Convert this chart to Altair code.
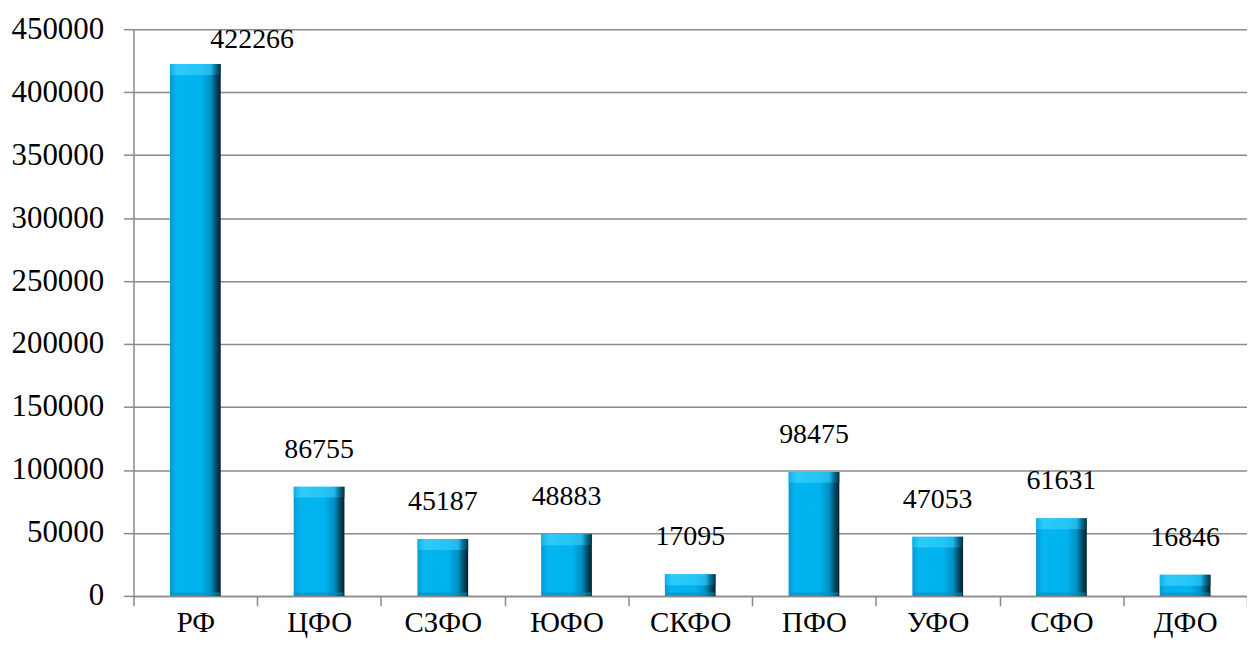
import altair as alt
import pandas as pd

regions = ["РФ", "ЦФО", "СЗФО", "ЮФО", "СКФО", "ПФО", "УФО", "СФО", "ДФО"]
values = [422266, 86755, 45187, 48883, 17095, 98475, 47053, 61631, 16846]

df = pd.DataFrame({"region": regions, "value": values})

FONT = "Liberation Serif"

body_grad = alt.Gradient(
    gradient="linear", x1=0, x2=1, y1=0, y2=0,
    stops=[
        alt.GradientStop(offset=0.0, color="#0898cf"),
        alt.GradientStop(offset=0.12, color="#04b4ee"),
        alt.GradientStop(offset=0.6, color="#00b4ef"),
        alt.GradientStop(offset=0.8, color="#0090c4"),
        alt.GradientStop(offset=0.9, color="#04506e"),
        alt.GradientStop(offset=1.0, color="#03202d"),
    ],
)
top_grad = alt.Gradient(
    gradient="linear", x1=0, x2=1, y1=0, y2=0,
    stops=[
        alt.GradientStop(offset=0.0, color="#18b8ee"),
        alt.GradientStop(offset=0.15, color="#40d4ff"),
        alt.GradientStop(offset=0.8, color="#30c8f8"),
        alt.GradientStop(offset=0.9, color="#0a7aa4"),
        alt.GradientStop(offset=1.0, color="#05384c"),
    ],
)

x_enc = alt.X(
    "region:N", sort=regions, title=None,
    scale=alt.Scale(paddingInner=0, paddingOuter=0),
    axis=alt.Axis(
        labelAngle=0, labelFont=FONT, labelFontSize=29, labelColor="black",
        labelPadding=3, tickBand="extent", tickSize=10, tickColor="#8a8a8a",
        tickWidth=1.5, domainColor="#8a8a8a", domainWidth=1.5, grid=False,
    ),
)
y_enc = alt.Y(
    "value:Q", title=None,
    scale=alt.Scale(domain=[0, 450000], nice=False),
    axis=alt.Axis(
        values=list(range(0, 450001, 50000)), format="d",
        labelFont=FONT, labelFontSize=31, labelColor="black", labelPadding=20,
        tickSize=10, tickColor="#8a8a8a", tickWidth=1.5,
        domainColor="#8a8a8a", domainWidth=1.5,
        grid=True, gridColor="#8a8a8a", gridWidth=1.5,
    ),
)

xs = alt.X("region:N", sort=regions)

base = alt.Chart(df)

bars = base.mark_bar(color=body_grad, width=alt.RelativeBandSize(0.41)).encode(x=x_enc, y=y_enc)

top_bevel = base.mark_tick(
    color=top_grad, size=51, thickness=11, yOffset=5.5
).encode(x=xs, y="value:Q")

bottom_bevel = base.mark_tick(
    color="#0a8cbd", size=49, thickness=3, yOffset=-2, opacity=0.6
).encode(x=xs, y=alt.Y("zero:Q")).transform_calculate(zero="0")

labels = base.mark_text(
    font=FONT, fontSize=28, color="black", baseline="alphabetic", dy=-29
).encode(
    x=xs, y="value:Q", text=alt.Text("value:Q", format="d")
).transform_filter(alt.datum.region != "РФ")

label_rf = base.mark_text(
    font=FONT, fontSize=28, color="black", baseline="alphabetic", dy=-16, dx=57
).encode(
    x=xs, y="value:Q", text=alt.Text("value:Q", format="d")
).transform_filter(alt.datum.region == "РФ")

chart = alt.layer(bars, top_bevel, bottom_bevel, labels, label_rf).properties(
    width=1118, height=569,
    padding={"left": 126, "top": 20, "right": 0, "bottom": 43},
    autosize=alt.AutoSizeParams(type="none"),
    background="white",
).configure_view(stroke=None)

chart.save("out.html", embed_options={"renderer": "svg", "actions": False})
